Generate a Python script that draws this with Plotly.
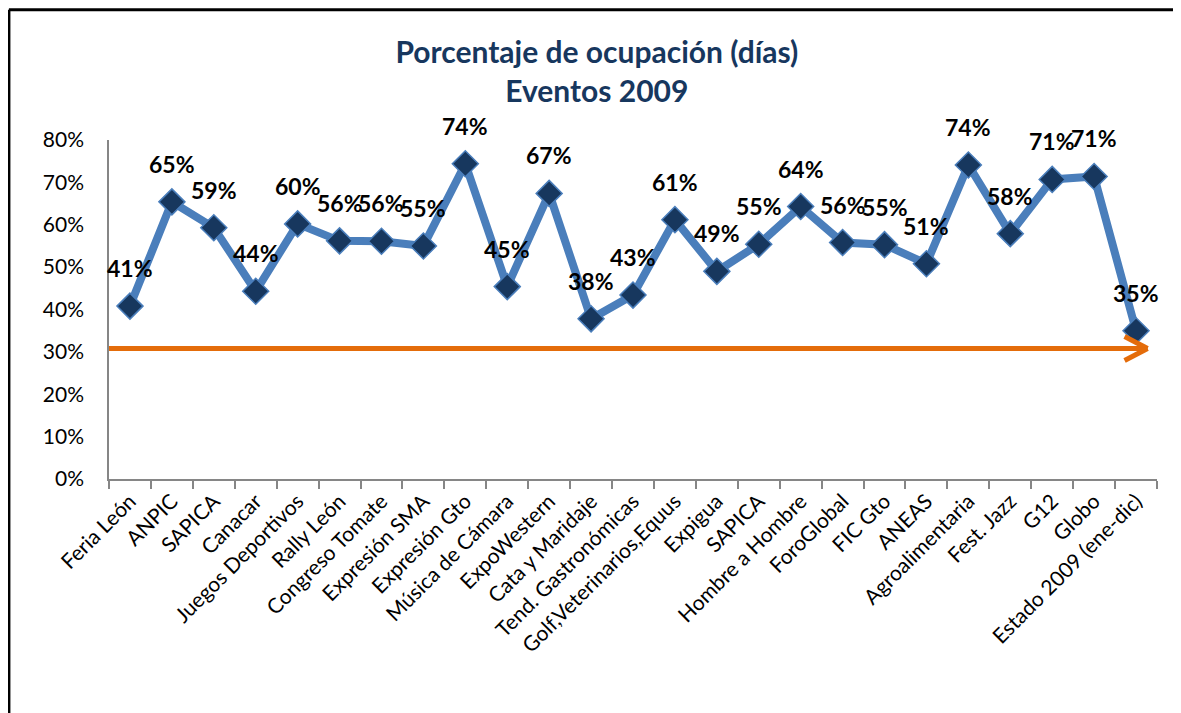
import plotly.graph_objects as go

# eventos 2009 - porcentaje de ocupacion (dias)
eventos = ['Feria León', 'ANPIC', 'SAPICA', 'Canacar', 'Juegos Deportivos',
           'Rally León', 'Congreso Tomate', 'Expresión SMA', 'Expresión Gto',
           'Música de Cámara', 'ExpoWestern', 'Cata y Maridaje',
           'Tend. Gastronómicas', 'Golf,Veterinarios,Equus', 'Expigua', 'SAPICA',
           'Hombre a Hombre', 'ForoGlobal', 'FIC Gto', 'ANEAS', 'Agroalimentaria',
           'Fest. Jazz', 'G12', 'Globo', 'Estado 2009 (ene-dic)']
ocupacion = [0.408, 0.654, 0.593, 0.443, 0.602, 0.562, 0.561, 0.550, 0.744,
             0.454, 0.674, 0.378, 0.434, 0.612, 0.490, 0.554, 0.643, 0.558,
             0.553, 0.508, 0.741, 0.579, 0.707, 0.714, 0.350]
nivel_ref = 0.308
y_ticks = [0, 0.1, 0.2, 0.3, 0.4, 0.5, 0.6, 0.7, 0.8]

FONT = 'Lato'
pos = list(range(len(eventos)))

fig = go.Figure()
fig.add_trace(go.Scatter(
    x=pos, y=ocupacion, mode='lines+markers',
    line=dict(color='#4A7EBB', width=8),
    marker=dict(symbol='diamond', size=20, color='#17375E',
                line=dict(color='#4A7EBB', width=1.5)),
    hoverinfo='skip', showlegend=False))

for xi, v in zip(pos, ocupacion):
    fig.add_annotation(x=xi, y=v, text='%d%%' % round(v * 100), showarrow=False,
                       yshift=38, font=dict(family=FONT, size=23, color='black',
                                            weight='bold'))

# flecha naranja
fig.add_shape(type='line', xref='paper', yref='y', x0=0, x1=0.991,
              y0=nivel_ref, y1=nivel_ref, line=dict(color='#E46C0A', width=5))
for dy in (12, -12):
    fig.add_shape(type='line', xref='paper', yref='y', xsizemode='pixel',
                  ysizemode='pixel', xanchor=0.991, yanchor=nivel_ref,
                  x0=-23, x1=0, y0=dy, y1=0,
                  line=dict(color='#E46C0A', width=5))

# marco (solo arriba e izquierda)
fig.add_shape(type='line', xref='paper', yref='paper', x0=-0.0955, x1=1.03,
              y0=1.384, y1=1.384, line=dict(color='black', width=3))
fig.add_shape(type='line', xref='paper', yref='paper', x0=-0.0955, x1=-0.0955,
              y0=1.384, y1=-0.7, line=dict(color='black', width=3))

fig.update_layout(
    width=1173, height=705,
    margin=dict(l=101, r=24, t=132, b=234),
    paper_bgcolor='white', plot_bgcolor='white',
    title=dict(text='Porcentaje de ocupación (días)<br>Eventos 2009',
               x=0.502, xanchor='center', y=0.922, yanchor='top',
               font=dict(family=FONT, size=30, color='#17375E', weight='bold')),
    xaxis=dict(range=[-0.5, len(eventos) - 0.5], tickmode='array',
               tickvals=pos, ticktext=eventos, tickangle=-45, ticks='',
               showline=True, linecolor='#868686', linewidth=1.5,
               showgrid=False, zeroline=False, automargin=False,
               tickfont=dict(family=FONT, size=21, color='black'),
               minor=dict(tickmode='array',
                          tickvals=[p - 0.5 for p in pos] + [len(eventos) - 0.5],
                          ticks='outside', ticklen=8, tickcolor='#868686',
                          tickwidth=1.5, showgrid=False)),
    yaxis=dict(range=[0, 0.8], tickmode='array', tickvals=y_ticks,
               tickformat='.0%', showline=True, linecolor='#868686',
               linewidth=1.5, showgrid=False, zeroline=False,
               automargin=False, ticklabelstandoff=19,
               tickfont=dict(family=FONT, size=21, color='black')),
)

fig.write_html('out.html')
